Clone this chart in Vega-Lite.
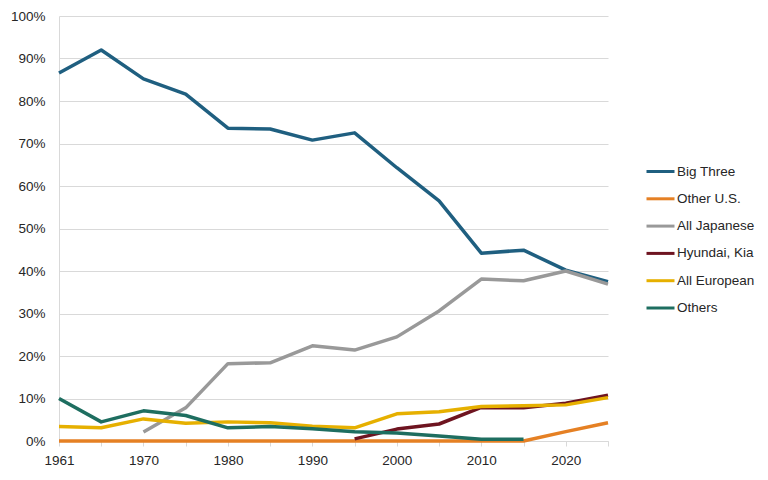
{
  "$schema": "https://vega.github.io/schema/vega-lite/v6.json",
  "autosize": "none",
  "width": 549,
  "height": 425,
  "padding": {"left": 59, "top": 16, "right": 160, "bottom": 39},
  "background": "white",
  "data": {
    "values": [
      {"year": 1961, "maker": "Big Three", "share": 0.866},
      {"year": 1965, "maker": "Big Three", "share": 0.920},
      {"year": 1970, "maker": "Big Three", "share": 0.852},
      {"year": 1975, "maker": "Big Three", "share": 0.816},
      {"year": 1980, "maker": "Big Three", "share": 0.736},
      {"year": 1985, "maker": "Big Three", "share": 0.734},
      {"year": 1990, "maker": "Big Three", "share": 0.708},
      {"year": 1995, "maker": "Big Three", "share": 0.725},
      {"year": 2000, "maker": "Big Three", "share": 0.643},
      {"year": 2005, "maker": "Big Three", "share": 0.565},
      {"year": 2010, "maker": "Big Three", "share": 0.442},
      {"year": 2015, "maker": "Big Three", "share": 0.449},
      {"year": 2020, "maker": "Big Three", "share": 0.402},
      {"year": 2025, "maker": "Big Three", "share": 0.375},

      {"year": 1961, "maker": "Other U.S.", "share": 0},
      {"year": 1965, "maker": "Other U.S.", "share": 0},
      {"year": 1970, "maker": "Other U.S.", "share": 0},
      {"year": 1975, "maker": "Other U.S.", "share": 0},
      {"year": 1980, "maker": "Other U.S.", "share": 0},
      {"year": 1985, "maker": "Other U.S.", "share": 0},
      {"year": 1990, "maker": "Other U.S.", "share": 0},
      {"year": 1995, "maker": "Other U.S.", "share": 0},
      {"year": 2000, "maker": "Other U.S.", "share": 0},
      {"year": 2005, "maker": "Other U.S.", "share": 0},
      {"year": 2010, "maker": "Other U.S.", "share": 0},
      {"year": 2015, "maker": "Other U.S.", "share": 0},
      {"year": 2020, "maker": "Other U.S.", "share": 0.022},
      {"year": 2025, "maker": "Other U.S.", "share": 0.043},

      {"year": 1970, "maker": "All Japanese", "share": 0.021},
      {"year": 1975, "maker": "All Japanese", "share": 0.078},
      {"year": 1980, "maker": "All Japanese", "share": 0.182},
      {"year": 1985, "maker": "All Japanese", "share": 0.184},
      {"year": 1990, "maker": "All Japanese", "share": 0.224},
      {"year": 1995, "maker": "All Japanese", "share": 0.214},
      {"year": 2000, "maker": "All Japanese", "share": 0.245},
      {"year": 2005, "maker": "All Japanese", "share": 0.306},
      {"year": 2010, "maker": "All Japanese", "share": 0.381},
      {"year": 2015, "maker": "All Japanese", "share": 0.377},
      {"year": 2020, "maker": "All Japanese", "share": 0.400},
      {"year": 2025, "maker": "All Japanese", "share": 0.369},

      {"year": 1995, "maker": "Hyundai, Kia", "share": 0.005},
      {"year": 2000, "maker": "Hyundai, Kia", "share": 0.028},
      {"year": 2005, "maker": "Hyundai, Kia", "share": 0.040},
      {"year": 2010, "maker": "Hyundai, Kia", "share": 0.079},
      {"year": 2015, "maker": "Hyundai, Kia", "share": 0.078},
      {"year": 2020, "maker": "Hyundai, Kia", "share": 0.089},
      {"year": 2025, "maker": "Hyundai, Kia", "share": 0.108},

      {"year": 1961, "maker": "All European", "share": 0.034},
      {"year": 1965, "maker": "All European", "share": 0.031},
      {"year": 1970, "maker": "All European", "share": 0.052},
      {"year": 1975, "maker": "All European", "share": 0.042},
      {"year": 1980, "maker": "All European", "share": 0.045},
      {"year": 1985, "maker": "All European", "share": 0.043},
      {"year": 1990, "maker": "All European", "share": 0.035},
      {"year": 1995, "maker": "All European", "share": 0.031},
      {"year": 2000, "maker": "All European", "share": 0.064},
      {"year": 2005, "maker": "All European", "share": 0.069},
      {"year": 2010, "maker": "All European", "share": 0.081},
      {"year": 2015, "maker": "All European", "share": 0.083},
      {"year": 2020, "maker": "All European", "share": 0.085},
      {"year": 2025, "maker": "All European", "share": 0.102},

      {"year": 1961, "maker": "Others", "share": 0.100},
      {"year": 1965, "maker": "Others", "share": 0.045},
      {"year": 1970, "maker": "Others", "share": 0.071},
      {"year": 1975, "maker": "Others", "share": 0.060},
      {"year": 1980, "maker": "Others", "share": 0.031},
      {"year": 1985, "maker": "Others", "share": 0.034},
      {"year": 1990, "maker": "Others", "share": 0.029},
      {"year": 1995, "maker": "Others", "share": 0.022},
      {"year": 2000, "maker": "Others", "share": 0.019},
      {"year": 2005, "maker": "Others", "share": 0.012},
      {"year": 2010, "maker": "Others", "share": 0.004},
      {"year": 2015, "maker": "Others", "share": 0.004}
    ]
  },
  "mark": {"type": "line", "strokeWidth": 3.5, "strokeCap": "butt", "strokeJoin": "round"},
  "encoding": {
    "x": {
      "field": "year",
      "type": "ordinal",
      "scale": {"type": "point", "padding": 0},
      "axis": {
        "title": null,
        "labelAngle": 0,
        "labelOverlap": false,
        "labelExpr": "indexof([1961,1970,1980,1990,2000,2010,2020], datum.value) >= 0 ? datum.label : ''",
        "domainColor": "#d9d9d9",
        "tickColor": "#d9d9d9",
        "tickSize": 5,
        "labelPadding": 7,
        "grid": false
      }
    },
    "y": {
      "field": "share",
      "type": "quantitative",
      "scale": {"domain": [0, 1], "nice": false},
      "axis": {
        "title": null,
        "format": ".0%",
        "values": [0, 0.1, 0.2, 0.3, 0.4, 0.5, 0.6, 0.7, 0.8, 0.9, 1],
        "ticks": false,
        "domainColor": "#d9d9d9",
        "gridColor": "#d9d9d9",
        "labelPadding": 14
      }
    },
    "color": {
      "field": "maker",
      "type": "nominal",
      "scale": {
        "domain": ["Big Three", "Other U.S.", "All Japanese", "Hyundai, Kia", "All European", "Others"],
        "range": ["#1f5f80", "#e58024", "#999999", "#6e1420", "#e6b000", "#1e6e60"]
      },
      "legend": {
        "title": null,
        "orient": "none",
        "legendX": 586,
        "legendY": 140,
        "symbolType": "stroke",
        "symbolSize": 784,
        "symbolStrokeWidth": 3,
        "rowPadding": 5.3,
        "labelOffset": 1,
        "labelFontSize": 13.5,
        "labelColor": "#262626",
        "labelFont": "Liberation Sans"
      }
    }
  },
  "config": {
    "view": {"stroke": null},
    "axis": {
      "labelFont": "Liberation Sans",
      "labelFontSize": 13.5,
      "labelColor": "#262626"
    }
  }
}
